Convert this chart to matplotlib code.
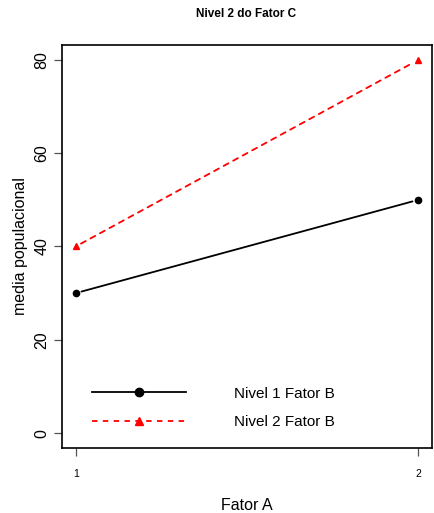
import matplotlib
matplotlib.use("Agg")
import matplotlib.pyplot as plt
from matplotlib.lines import Line2D

plt.rcParams['font.family'] = ['Liberation Sans', 'DejaVu Sans']

fator_a = [1, 2]
nivel1 = [30, 50]
nivel2 = [40, 80]
yticks = [0, 20, 40, 60, 80]
labels = ["Nivel 1 Fator B", "Nivel 2 Fator B"]

fig = plt.figure(figsize=(4.35, 5.13), dpi=100)
ax = fig.add_axes([0.1425, 0.1267, 0.8505, 0.7856])

series = [(nivel1, 'black', '-', 'o'), (nivel2, 'red', (0, (3, 3)), '^')]
handles = []
for (vals, col, ls, mk), lab in zip(series, labels):
    # points, then line segments with a gap around each point (R type="b")
    ax.plot(fator_a, vals, ls='none', marker=mk, color=col, ms=4.5)
    for i in range(len(fator_a) - 1):
        ax.annotate('', xy=(fator_a[i + 1], vals[i + 1]), xytext=(fator_a[i], vals[i]),
                    arrowprops=dict(arrowstyle='-', color=col, lw=1.3, linestyle=ls,
                                    shrinkA=4.3, shrinkB=4.3))
    handles.append(Line2D([], [], color=col, ls=ls, lw=1.3, marker=mk, ms=6))

ax.set_xlim(0.96, 2.04)
ax.set_ylim(-3.2, 83.2)
ax.set_xticks(fator_a)
ax.set_xticklabels([str(v) for v in fator_a], fontsize=7.5)
ax.set_yticks(yticks)
ax.set_yticklabels([str(v) for v in yticks], fontsize=11.5, rotation=90, va='center')
ax.tick_params(axis='y', length=6, width=0.9, color='#555555', pad=3)
ax.tick_params(axis='x', length=6, width=0.9, color='#555555', pad=9)
for s in ax.spines.values():
    s.set_linewidth(1.2)

ax.set_xlabel("Fator A", fontsize=11.5, labelpad=14)
ax.set_ylabel("media populacional", fontsize=11.5, labelpad=5)
fig.text(0.566, 0.972, "Nivel 2 do Fator C", fontsize=8.5, fontweight='bold',
         ha='center', va='center')

ax.legend(handles, labels, loc='lower left', bbox_to_anchor=(0.043, 0.013),
          frameon=False, fontsize=11, handlelength=6.2, handletextpad=3.1,
          labelspacing=0.94)

fig.savefig("out.png", dpi=100)
